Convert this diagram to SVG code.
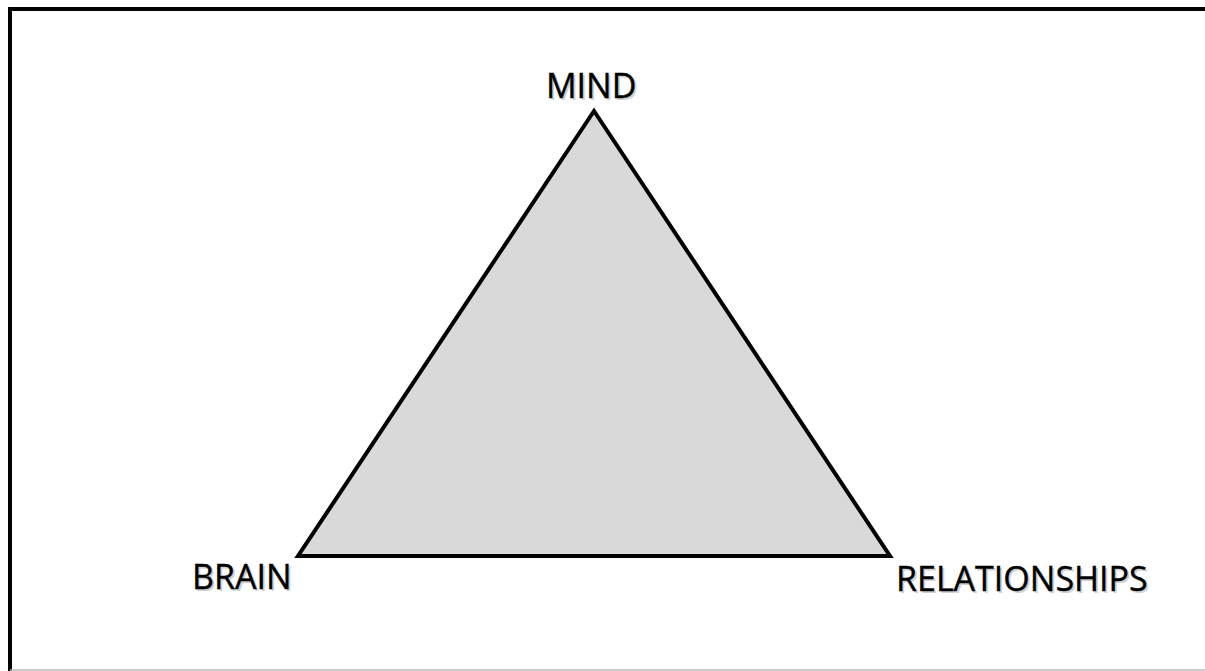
<svg xmlns="http://www.w3.org/2000/svg" width="1205" height="671" viewBox="0 0 1205 671">
<defs>
<style>
.lbl{font-family:"Open Sans","Liberation Sans",sans-serif;font-size:34px;fill:#000;stroke:#000;stroke-width:0.4px;}
.shadow{fill:#999;stroke:none;opacity:0.45;}
</style>
</defs>
<rect x="0" y="0" width="1205" height="671" fill="#fff"/>
<path d="M10 671 V9 H1205" fill="none" stroke="#000" stroke-width="4"/>
<line x1="10" y1="670" x2="1205" y2="670" stroke="#bbb" stroke-width="1.5"/>
<g id="triangle">
<polygon points="594,111 298,556 890,556" fill="#d9d9d9" stroke="#000" stroke-width="4" stroke-linejoin="miter"/>
</g>
<g id="mind">
<text class="lbl shadow" x="548" y="100">MIND</text>
<text class="lbl" x="546" y="98">MIND</text>
</g>
<g id="brain">
<text class="lbl shadow" x="194" y="591">BRAIN</text>
<text class="lbl" x="192" y="589">BRAIN</text>
</g>
<g id="relationships">
<text class="lbl shadow" x="898" y="593">RELATIONSHIPS</text>
<text class="lbl" x="896" y="591">RELATIONSHIPS</text>
</g>
</svg>
